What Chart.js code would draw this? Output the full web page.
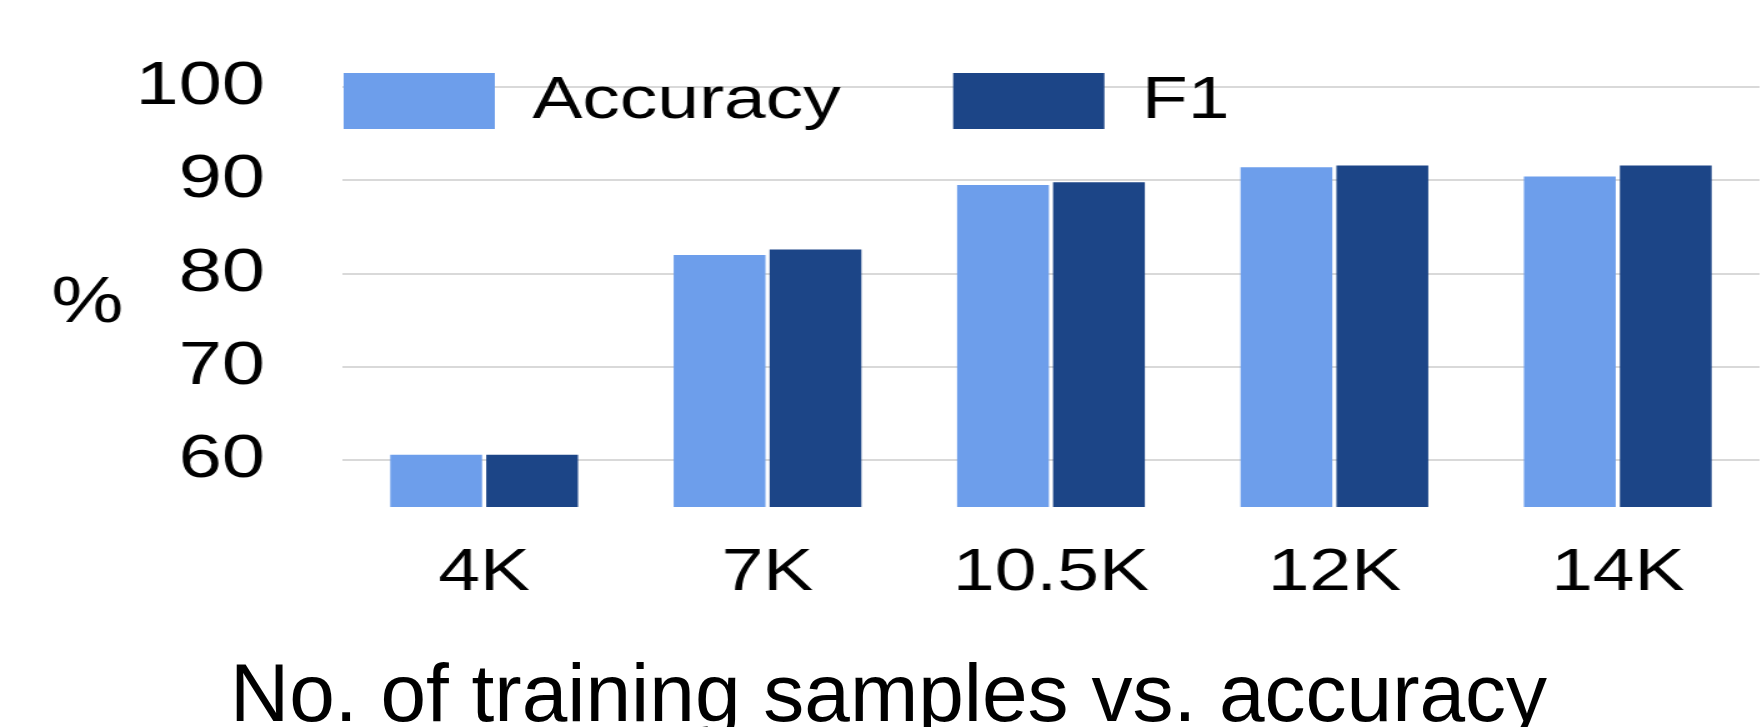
<!DOCTYPE html>
<html>
<head>
<meta charset="utf-8">
<script src="https://cdn.jsdelivr.net/npm/chart.js@4"></script>
<style>
  html, body { margin: 0; padding: 0; background: #fff; }
  #wrap { position: relative; width: 1762px; height: 727px; overflow: hidden; }
  #caption {
    position: absolute; left: 230px; top: 652px;
    font-family: 'Liberation Sans', Arial, sans-serif;
    font-size: 82px; line-height: 1; color: #000; white-space: nowrap;
  }
</style>
</head>
<body>
<div id="wrap">
  <!-- the source picture is stretched sideways, so the canvas is drawn narrow and widened -->
  <canvas id="chart" width="1410" height="727" style="width:1762px;height:727px"></canvas>
  <div id="caption">No. of training samples vs. accuracy</div>
</div>
<script>
// data
const sampleSizes = ["4K", "7K", "10.5K", "12K", "14K"]
const accuracy = [60.6, 82.0, 89.5, 91.4, 90.4]
const f1 = [60.6, 82.6, 89.8, 91.6, 91.6]
const yTickValues = [60, 70, 80, 90, 100]

const lightBlue = "#6d9eeb"
const darkBlue = "#1c4587"

Chart.defaults.font.family = "'Liberation Sans', Arial, sans-serif"
Chart.defaults.color = "#000"

const legendFont = 60
const legendBoxH = 56
const legendPad = 90

// legend sits over the top gridline, so move it after layout
const legendShift = {
  id: "legendShift",
  afterLayout(chart) {
    const lg = chart.legend
    const w = lg.width
    lg.left = 275 - legendPad
    lg.right = lg.left + w
    lg.top = 73 - legendPad - Math.max((legendFont - legendBoxH) / 2, 0)
    lg.bottom = lg.top + 600
  }
}

// the "%" label next to the y ticks (horizontal, not rotated)
const percentLabel = {
  id: "percentLabel",
  afterDraw(chart) {
    const ctx = chart.ctx
    const area = chart.chartArea
    ctx.save()
    ctx.font = "65px 'Liberation Sans', Arial, sans-serif"
    ctx.fillStyle = "#000"
    ctx.textAlign = "center"
    ctx.textBaseline = "middle"
    ctx.fillText("%", 70, (area.top + area.bottom) / 2 + 7)
    ctx.restore()
  }
}

new Chart(document.getElementById("chart"), {
  type: "bar",
  data: {
    labels: sampleSizes,
    datasets: [
      { label: "Accuracy", data: accuracy, backgroundColor: lightBlue, borderWidth: 0 },
      { label: "F1", data: f1, backgroundColor: darkBlue, borderWidth: 0 }
    ]
  },
  options: {
    responsive: false,
    animation: false,
    datasets: { bar: { categoryPercentage: 0.677, barPercentage: 0.957 } },
    layout: { autoPadding: false, padding: { top: 0, left: 0, right: 2, bottom: 88 } },
    plugins: {
      tooltip: { enabled: false },
      title: { display: false },
      legend: {
        position: "top",
        align: "start",
        maxHeight: 87,
        labels: {
          boxWidth: 121,
          boxHeight: legendBoxH,
          padding: legendPad,
          color: "#000",
          font: { size: legendFont }
        }
      }
    },
    scales: {
      x: {
        grid: { display: false, drawTicks: false },
        border: { display: false },
        ticks: { font: { size: 60 }, color: "#000", padding: 30 }
      },
      y: {
        min: 55,
        max: 100,
        afterBuildTicks(scale) {
          scale.ticks = yTickValues.map(v => ({ value: v }))
        },
        afterFit(scale) {
          scale.width = 274
          // tick padding is only meant to push labels left, not down
          scale.paddingTop = 0
          scale.paddingBottom = 0
        },
        grid: { color: "#d9d9d9", lineWidth: 2, drawTicks: false },
        border: { display: false },
        ticks: { font: { size: 62 }, color: "#000", padding: 62 }
      }
    }
  },
  plugins: [legendShift, percentLabel]
})
</script>
</body>
</html>
